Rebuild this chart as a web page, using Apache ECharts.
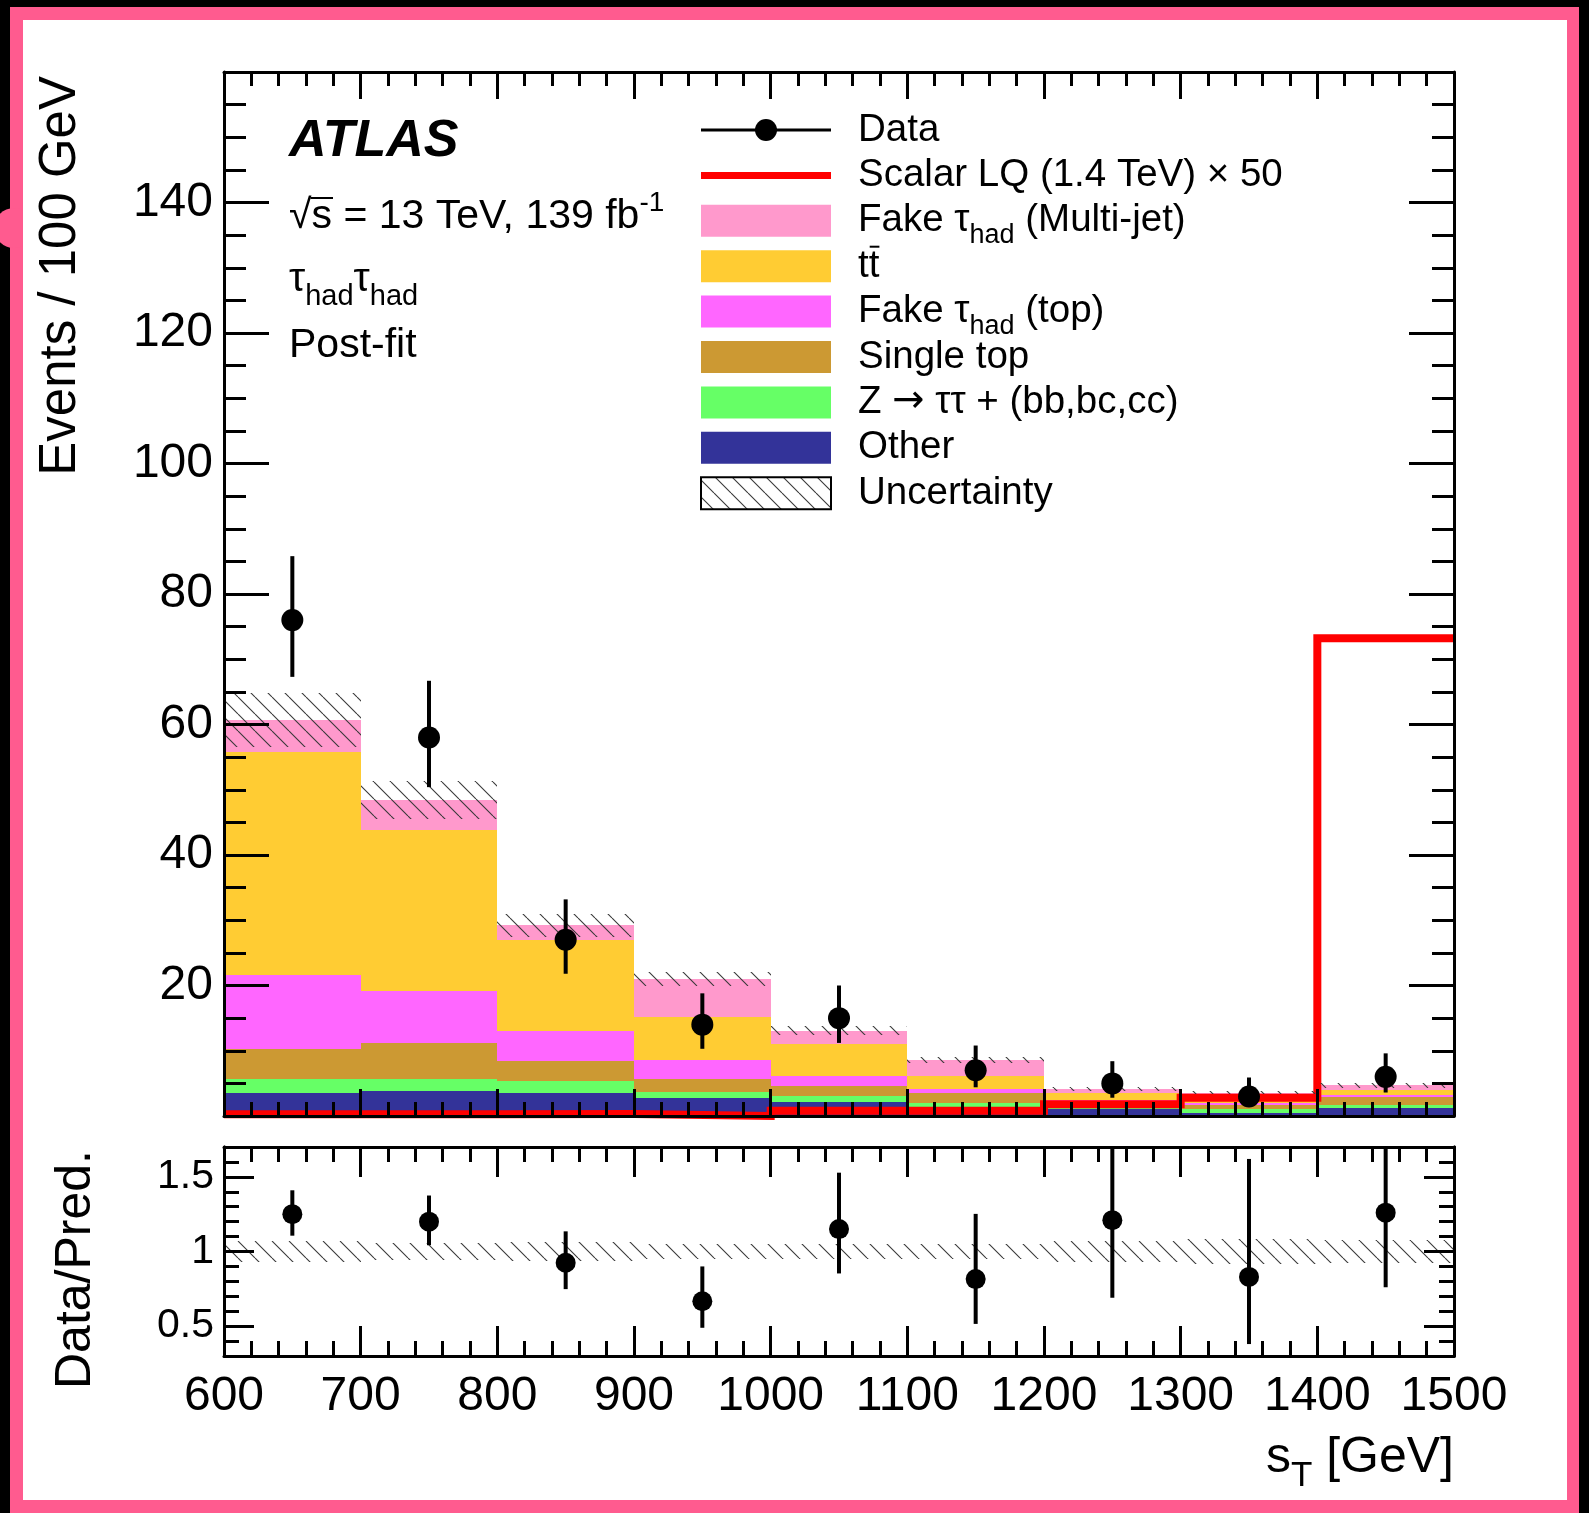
<!DOCTYPE html>
<html>
<head>
<meta charset="utf-8">
<script src="https://cdn.jsdelivr.net/npm/echarts@6/dist/echarts.min.js"></script>
<style>
  html, body { margin: 0; padding: 0; background: #000; width: 1589px; height: 1513px; overflow: hidden; }
  #frame { position: absolute; left: 10px; top: 7px; width: 1569px; height: 1506px; background: #ff5b8f; }
  #knob { position: absolute; left: -6px; top: 208px; width: 40px; height: 40px; border-radius: 50%; background: #ff5b8f; }
  #paper { position: absolute; left: 23px; top: 20px; width: 1544px; height: 1480px; background: #fff; }
  #chart { position: absolute; left: 0; top: 0; width: 1589px; height: 1513px; }
</style>
</head>
<body>
<div id="frame"></div>
<div id="knob"></div>
<div id="paper"></div>
<div id="chart"></div>
<script>
// ---- s_T binning (GeV) ----
const binEdges = [600, 700, 800, 900, 1000, 1100, 1200, 1300, 1400, 1500];

// ---- post-fit background yields per bin (events / 100 GeV), stacked bottom to top ----
const otherBkg   = [3.5, 3.8, 3.5, 2.7, 2.1, 0.9, 1.0, 0.5, 1.2];
const zttHF      = [2.2, 1.9, 1.8, 1.0, 0.9, 1.1, 0.2, 0.5, 0.5];
const singleTop  = [4.6, 5.5, 3.2, 1.9, 1.6, 1.5, 0.8, 0.7, 1.2];
const fakeTauTop = [11.3, 7.9, 4.5, 3.0, 1.6, 0.6, 0.4, 0.3, 0.3];
const ttbar      = [34.2, 24.8, 13.9, 6.5, 4.9, 2.1, 1.1, 0.8, 0.8];
const fakeTauMJ  = [4.9, 4.5, 2.3, 5.9, 2.0, 2.4, 0.6, 0.8, 0.7];

// total background uncertainty (symmetric)
const bkgUnc = [4.1, 2.9, 1.8, 1.1, 0.7, 0.45, 0.3, 0.3, 0.35];

// ---- observed data with asymmetric Poisson errors ----
const dataCounts = [76, 58, 27, 14, 15, 7, 5, 3, 6];
const dataErrUp  = [9.8, 8.7, 6.2, 4.8, 5.0, 3.8, 3.4, 2.9, 3.6];
const dataErrDn  = [8.7, 7.6, 5.2, 3.7, 3.8, 2.6, 2.2, 1.6, 2.4];

// ---- scalar LQ (1.4 TeV) signal, scaled by 50 ----
const lqSignal = [0.25, 0.25, 0.3, 0.0, 0.8, 0.8, 1.8, 2.8, 73.2];

// ---- Data / Pred. ratio ----
const ratioVals  = [1.25, 1.20, 0.925, 0.667, 1.15, 0.815, 1.21, 0.83, 1.26];
const ratioErrUp = [0.16, 0.175, 0.21, 0.233, 0.378, 0.437, 0.83, 0.79, 0.76];
const ratioErrDn = [0.144, 0.158, 0.177, 0.178, 0.297, 0.30, 0.52, 0.45, 0.50];

// ---- axis tick values ----
const ratioMajorTicks = [0.5, 1, 1.5];

const FONT = '"Liberation Sans", Arial, Helvetica, sans-serif';
const SYMFONT = '"DejaVu Sans", "Liberation Sans", sans-serif';

// diagonal hatch tile used for the uncertainty bands
function hatchTile() {
  const s = 17;
  const c = document.createElement('canvas');
  c.width = s; c.height = s;
  const g = c.getContext('2d');
  g.strokeStyle = '#3a3a3a';
  g.lineWidth = 1.1;
  g.beginPath();
  for (let k = -1; k <= 1; k++) {
    g.moveTo(k * s, 0);
    g.lineTo(k * s + s, s);
  }
  g.stroke();
  return c;
}
const hatchFill = { image: hatchTile(), repeat: 'repeat' };

// ---- stacked histogram layers ----
const layers = [
  { vals: otherBkg,   color: '#333399' },
  { vals: zttHF,      color: '#66ff66' },
  { vals: singleTop,  color: '#cc9933' },
  { vals: fakeTauTop, color: '#ff66ff' },
  { vals: ttbar,      color: '#ffcc33' },
  { vals: fakeTauMJ,  color: '#ff99cc' }
];

function rectItem(fill, stroke) {
  return function (params, api) {
    const a = api.coord([api.value(0), api.value(3)]);
    const b = api.coord([api.value(1), api.value(2)]);
    const x0 = Math.round(a[0]), x1 = Math.round(b[0]);
    const y0 = Math.round(a[1]), y1 = Math.round(b[1]);
    return {
      type: 'rect',
      shape: { x: x0, y: y0, width: x1 - x0, height: y1 - y0 },
      style: { fill: fill, stroke: stroke || null, lineWidth: 0 }
    };
  };
}

const cum = binEdges.slice(0, -1).map(() => 0);
const stackSeries = layers.map((layer, li) => {
  const items = layer.vals.map((v, i) => {
    const lo = cum[i];
    cum[i] = lo + v;
    return [binEdges[i], binEdges[i + 1], lo, cum[i]];
  });
  return {
    type: 'custom', xAxisIndex: 0, yAxisIndex: 0, z: 2 + li * 0.01, silent: true,
    dimensions: ['x0', 'x1', 'lo', 'hi'],
    encode: { x: [0, 1], y: [2, 3] },
    renderItem: rectItem(layer.color),
    data: items
  };
});
const totalBkg = cum.slice();

// uncertainty hatch on the stack
const hatchSeries = {
  type: 'custom', xAxisIndex: 0, yAxisIndex: 0, z: 4, silent: true,
  dimensions: ['x0', 'x1', 'lo', 'hi'],
  encode: { x: [0, 1], y: [2, 3] },
  renderItem: rectItem(hatchFill),
  data: totalBkg.map((t, i) => [binEdges[i], binEdges[i + 1], t - bkgUnc[i], t + bkgUnc[i]])
};

// signal outline as a step line
const lqPoints = lqSignal.map((v, i) => [binEdges[i], v]);
lqPoints.push([binEdges[binEdges.length - 1], lqSignal[lqSignal.length - 1]]);
const lqSeries = {
  type: 'line', xAxisIndex: 0, yAxisIndex: 0, z: 3, silent: true,
  step: 'end', showSymbol: false, symbol: 'none', clip: false,
  lineStyle: { color: '#ff0000', width: 8, join: 'miter', cap: 'butt' },
  data: lqPoints
};

// black points with vertical error bars
function pointItem(radius) {
  return function (params, api) {
    const x = api.value(0), v = api.value(1), up = api.value(2), dn = api.value(3);
    const c = api.coord([x, v]);
    const t = api.coord([x, v + up]);
    const b = api.coord([x, v - dn]);
    return {
      type: 'group',
      children: [
        { type: 'line', shape: { x1: c[0], y1: t[1], x2: c[0], y2: b[1] }, style: { stroke: '#000', lineWidth: 4 } },
        { type: 'circle', shape: { cx: c[0], cy: c[1], r: radius }, style: { fill: '#000' } }
      ]
    };
  };
}
const binCentres = binEdges.slice(0, -1).map((e, i) => (e + binEdges[i + 1]) / 2);

const dataSeries = {
  type: 'custom', xAxisIndex: 0, yAxisIndex: 0, z: 6, silent: true, clip: true,
  dimensions: ['x', 'y', 'up', 'dn'],
  encode: { x: 0, y: 1 },
  renderItem: pointItem(11),
  data: dataCounts.map((n, i) => [binCentres[i], n, dataErrUp[i], dataErrDn[i]])
};

// ratio panel: relative background uncertainty band and data/pred points
const ratioBand = {
  type: 'custom', xAxisIndex: 2, yAxisIndex: 2, z: 4, silent: true,
  dimensions: ['x0', 'x1', 'lo', 'hi'],
  encode: { x: [0, 1], y: [2, 3] },
  renderItem: rectItem(hatchFill),
  data: totalBkg.map((t, i) => {
    const r = bkgUnc[i] / t;
    return [binEdges[i], binEdges[i + 1], 1 - r, 1 + r];
  })
};
const ratioSeries = {
  type: 'custom', xAxisIndex: 2, yAxisIndex: 2, z: 6, silent: true, clip: true,
  dimensions: ['x', 'y', 'up', 'dn'],
  encode: { x: 0, y: 1 },
  renderItem: pointItem(10),
  data: ratioVals.map((r, i) => [binCentres[i], r, ratioErrUp[i], ratioErrDn[i]])
};

// ---- axes (ROOT style: ticks inside on all four sides) ----
const lineBlack = { color: '#000', width: 3 };
function xAx(grid, pos, major, minor, labels) {
  return {
    type: 'value', gridIndex: grid, position: pos, min: 600, max: 1500, interval: 100, z: 10,
    axisLine: { show: true, onZero: false, lineStyle: lineBlack },
    axisTick: { show: true, inside: true, length: major, lineStyle: lineBlack },
    minorTick: { show: true, splitNumber: 5, length: minor, lineStyle: lineBlack },
    splitLine: { show: false }, minorSplitLine: { show: false },
    axisLabel: labels ? {
      show: true, color: '#000', fontFamily: FONT, fontSize: 48, margin: 17,
      showMinLabel: true, showMaxLabel: true, formatter: v => String(v)
    } : { show: false }
  };
}
function yMain(pos, labels) {
  return {
    type: 'value', gridIndex: 0, position: pos, min: 0, max: 160, interval: 20, z: 10,
    axisLine: { show: true, onZero: false, lineStyle: lineBlack },
    axisTick: { show: true, inside: true, length: 45, lineStyle: lineBlack },
    minorTick: { show: true, splitNumber: 4, length: 22, lineStyle: lineBlack },
    splitLine: { show: false }, minorSplitLine: { show: false },
    axisLabel: labels ? {
      show: true, color: '#000', fontFamily: FONT, fontSize: 48, margin: 11,
      formatter: v => (v === 0 || v === 160) ? '' : String(v)
    } : { show: false }
  };
}
function yRatioMinor(pos) {
  return {
    type: 'value', gridIndex: 1, position: pos, min: 0.3, max: 1.7, interval: 0.1, z: 10,
    axisLine: { show: true, onZero: false, lineStyle: lineBlack },
    axisTick: { show: true, inside: true, length: 15, lineStyle: lineBlack },
    splitLine: { show: false },
    axisLabel: { show: false }
  };
}
function yRatioMajor(pos, labels) {
  return {
    type: 'value', gridIndex: 1, position: pos, min: 0.3, max: 1.7, z: 10,
    axisLine: { show: true, onZero: false, lineStyle: lineBlack },
    axisTick: { show: true, inside: true, length: 30, lineStyle: lineBlack, customValues: ratioMajorTicks },
    splitLine: { show: false },
    axisLabel: labels ? {
      show: true, color: '#000', fontFamily: FONT, fontSize: 41, margin: 10,
      customValues: ratioMajorTicks, formatter: v => String(v)
    } : { show: false }
  };
}

// ---- text helpers (sub/superscripts laid out piece by piece) ----
const mctx = document.createElement('canvas').getContext('2d');
function fontStr(size, pre, fam) { return (pre || '') + size + 'px ' + (fam || FONT); }
function textRun(x, baseline, pieces, alignRight) {
  const widths = pieces.map(p => { mctx.font = fontStr(p.s, p.f, p.fam); return mctx.measureText(p.t).width; });
  const total = widths.reduce((a, b) => a + b, 0);
  let cx = alignRight ? x - total : x;
  const xs = [];
  const els = pieces.map((p, i) => {
    xs.push(cx);
    const el = {
      type: 'text', silent: true, z: 50,
      style: {
        x: cx, y: baseline + (p.dy || 0) - 0.35 * p.s, text: p.t,
        font: fontStr(p.s, p.f, p.fam), fill: '#000', align: 'left', verticalAlign: 'middle'
      }
    };
    cx += widths[i];
    return el;
  });
  return { els, xs, widths };
}
function hline(x1, x2, y, w, color) {
  return { type: 'line', silent: true, z: 50, shape: { x1, y1: y, x2, y2: y }, style: { stroke: color || '#000', lineWidth: w } };
}

const g = [];
// experiment label block
g.push(...textRun(289, 160, [{ t: 'ATLAS', s: 52, f: 'italic bold ' }]).els);
const sq = textRun(289, 231, [{ t: '√', s: 41 }, { t: 's', s: 41 }, { t: ' = 13 TeV, 139 fb', s: 41 }, { t: '-1', s: 28, dy: -18 }]);
g.push(...sq.els);
g.push(hline(sq.xs[1] - 1, sq.xs[1] + sq.widths[1] + 1, 231 - 33, 2));
g.push(...textRun(289, 294, [{ t: 'τ', s: 41 }, { t: 'had', s: 29, dy: 13 }, { t: 'τ', s: 41 }, { t: 'had', s: 29, dy: 13 }]).els);
g.push(...textRun(289, 360, [{ t: 'Post-fit', s: 41 }]).els);

// legend
const legX0 = 701, legX1 = 831, legTextX = 858, legY0 = 130, legDy = 45.4, legFs = 38.5;
const legRows = [
  { kind: 'data', text: [{ t: 'Data', s: legFs }] },
  { kind: 'lq', text: [{ t: 'Scalar LQ (1.4 TeV) × 50', s: legFs }] },
  { kind: 'box', color: '#ff99cc', text: [{ t: 'Fake τ', s: legFs }, { t: 'had', s: 27, dy: 11 }, { t: ' (Multi-jet)', s: legFs }] },
  { kind: 'box', color: '#ffcc33', text: [{ t: 'tt', s: legFs }], bar: true },
  { kind: 'box', color: '#ff66ff', text: [{ t: 'Fake τ', s: legFs }, { t: 'had', s: 27, dy: 11 }, { t: ' (top)', s: legFs }] },
  { kind: 'box', color: '#cc9933', text: [{ t: 'Single top', s: legFs }] },
  { kind: 'box', color: '#66ff66', text: [{ t: 'Z ', s: legFs }, { t: '→', s: legFs, fam: SYMFONT }, { t: ' ττ + (bb,bc,cc)', s: legFs }] },
  { kind: 'box', color: '#333399', text: [{ t: 'Other', s: legFs }] },
  { kind: 'hatch', text: [{ t: 'Uncertainty', s: legFs }] }
];
legRows.forEach((row, i) => {
  const yc = legY0 + legDy * i;
  if (row.kind === 'data') {
    g.push(hline(legX0, legX1, yc, 3));
    g.push({ type: 'circle', silent: true, z: 50, shape: { cx: (legX0 + legX1) / 2, cy: yc, r: 11 }, style: { fill: '#000' } });
  } else if (row.kind === 'lq') {
    g.push(hline(legX0, legX1, yc, 7, '#ff0000'));
  } else if (row.kind === 'box') {
    g.push({ type: 'rect', silent: true, z: 50, shape: { x: legX0, y: yc - 16, width: legX1 - legX0, height: 32 }, style: { fill: row.color } });
  } else {
    g.push({ type: 'rect', silent: true, z: 50, shape: { x: legX0, y: yc - 16, width: legX1 - legX0, height: 32 }, style: { fill: hatchFill, stroke: '#000', lineWidth: 2 } });
  }
  const r = textRun(legTextX, yc + 13.5, row.text);
  g.push(...r.els);
  if (row.bar) {
    mctx.font = fontStr(legFs);
    const tw = mctx.measureText('t').width;
    g.push(hline(legTextX + tw + 1, legTextX + 2 * tw, yc + 13.5 - 33, 2));
  }
});

// axis titles
g.push({ type: 'text', silent: true, z: 50, rotation: Math.PI / 2, x: 61, y: 76,
  style: { x: 0, y: 0, text: 'Events / 100 GeV', font: fontStr(51), fill: '#000', align: 'right', verticalAlign: 'middle' } });
g.push({ type: 'text', silent: true, z: 50, rotation: Math.PI / 2, x: 76, y: 1150,
  style: { x: 0, y: 0, text: 'Data/Pred.', font: fontStr(50), fill: '#000', align: 'right', verticalAlign: 'middle' } });
g.push(...textRun(1454, 1476, [{ t: 's', s: 50 }, { t: 'T', s: 35, dy: 13 }, { t: ' [GeV]', s: 50 }], true).els);

const chart = echarts.init(document.getElementById('chart'), null, { renderer: 'canvas' });
chart.setOption({
  animation: false,
  backgroundColor: 'transparent',
  grid: [
    { left: 224, top: 72, width: 1230, height: 1044, containLabel: false, outerBoundsMode: 'none' },
    { left: 224, top: 1147, width: 1230, height: 209, containLabel: false, outerBoundsMode: 'none' }
  ],
  xAxis: [
    xAx(0, 'bottom', 27, 14, false),
    xAx(0, 'top', 27, 14, false),
    xAx(1, 'bottom', 30, 15, true),
    xAx(1, 'top', 30, 15, false)
  ],
  yAxis: [
    yMain('left', true),
    yMain('right', false),
    yRatioMinor('left'),
    yRatioMajor('left', true),
    yRatioMinor('right'),
    yRatioMajor('right', false)
  ],
  series: [...stackSeries, lqSeries, hatchSeries, dataSeries, ratioBand, ratioSeries],
  graphic: { elements: g }
});
</script>
</body>
</html>
